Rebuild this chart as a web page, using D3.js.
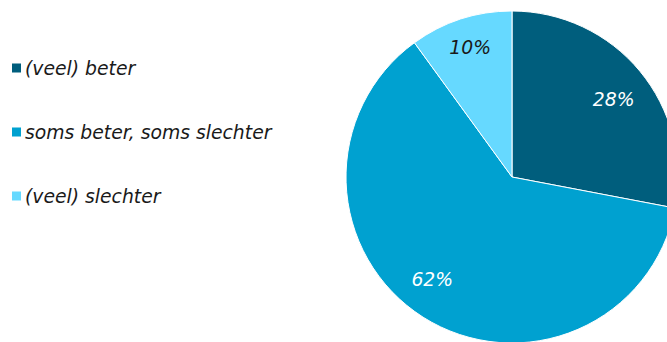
<!DOCTYPE html>
<html>
<head>
<meta charset="utf-8">
<script src="https://cdn.jsdelivr.net/npm/d3@7"></script>
<style>
  html, body { margin: 0; padding: 0; background: #fff; }
  svg { display: block; font-family: "DejaVu Sans", Verdana, sans-serif; font-style: italic; }
</style>
</head>
<body>
<svg id="chart" width="667" height="342"></svg>
<script>
const categories = ["(veel) beter", "soms beter, soms slechter", "(veel) slechter"];
const values = [28, 62, 10];
const colors = ["#005e7d", "#00a1d0", "#66d9ff"];
const labelColors = ["#ffffff", "#ffffff", "#1a1a1a"];

const svg = d3.select("#chart");
const cx = 512, cy = 177, radius = 166;
const fontSize = 18.8;

const color = d3.scaleOrdinal().domain(categories).range(colors);

const data = categories.map((c, i) => ({ category: c, value: values[i], label: labelColors[i] }));

const pie = d3.pie().value(d => d.value).sort(null);
const arc = d3.arc().innerRadius(0).outerRadius(radius);
const labelArc = d3.arc().innerRadius(132).outerRadius(132);
// small per-slice shifts of the value labels away from the plain centroid
const labelShift = [[0, 6.5], [-9, -9], [-1, -4.5]];

const g = svg.append("g").attr("transform", `translate(${cx},${cy})`);
const arcs = pie(data);

g.selectAll("path")
  .data(arcs)
  .join("path")
  .attr("d", arc)
  .attr("fill", d => color(d.data.category))
  .attr("stroke", "#ffffff")
  .attr("stroke-width", 1);

g.selectAll("text")
  .data(arcs)
  .join("text")
  .attr("transform", (d, i) => {
    const [x, y] = labelArc.centroid(d);
    return `translate(${x + labelShift[i][0]},${y + labelShift[i][1]})`;
  })
  .attr("text-anchor", "middle")
  .attr("dy", "0.36em")
  .attr("font-size", fontSize)
  .attr("fill", d => d.data.label)
  .text(d => d.data.value + "%");

// legend
const legend = svg.append("g");
const rowY = d3.scalePoint().domain(categories).range([68, 196]);
const item = legend.selectAll("g")
  .data(categories)
  .join("g")
  .attr("transform", d => `translate(12,${rowY(d)})`);

item.append("rect")
  .attr("x", 0).attr("y", -4.5)
  .attr("width", 9).attr("height", 9)
  .attr("fill", d => color(d));

item.append("text")
  .attr("x", 13)
  .attr("y", 0)
  .attr("dy", "0.36em")
  .attr("font-size", fontSize)
  .attr("fill", "#1a1a1a")
  .text(d => d);
</script>
</body>
</html>
